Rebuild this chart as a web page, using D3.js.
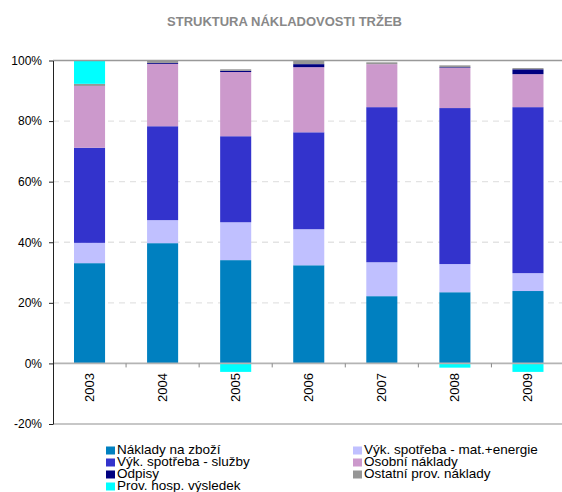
<!DOCTYPE html>
<html>
<head>
<meta charset="utf-8">
<script src="https://cdn.jsdelivr.net/npm/d3@7"></script>
<style>
  body { margin: 0; background: #fff; }
  text { font-family: Arial, "Liberation Sans", sans-serif; }
</style>
</head>
<body>
<div id="chart"></div>
<script>
// data (percent)
var years = ["2003", "2004", "2005", "2006", "2007", "2008", "2009"];
var zbozi      = [33.1, 39.7, 34.1, 32.4, 22.2, 23.5, 23.9];
var matEnergie = [6.7, 7.6, 12.5, 11.9, 11.2, 9.3, 5.9];
var sluzby     = [31.4, 31.0, 28.4, 32.0, 51.2, 51.5, 54.8];
var osobni     = [20.4, 20.6, 21.2, 21.5, 14.2, 13.3, 10.9];
var odpisy     = [0, 0.3, 0.4, 1.0, 0, 0.2, 1.6];
var ostatni    = [0.7, 0.7, 0.5, 1.2, 0.6, 0.6, 0.4];
var vysledek   = [7.7, 0, -2.8, 0, 0, -1.4, -2.8];

var seriesNames = ["Náklady na zboží", "Výk. spotřeba - mat.+energie", "Výk. spotřeba - služby",
  "Osobní náklady", "Odpisy", "Ostatní prov. náklady", "Prov. hosp. výsledek"];
var seriesValues = [zbozi, matEnergie, sluzby, osobni, odpisy, ostatni, vysledek];
var colors = ["#0080c0", "#c0c0ff", "#3333cc", "#cc99cc", "#000080", "#969696", "#00ffff"];
var yTicks = [-20, 0, 20, 40, 60, 80, 100];

const width = 562, height = 492;
const plotLeft = 53, plotRight = 564.5, plotTop = 60.5, plotBottom = 424;

var svg = d3.select("#chart").append("svg")
  .attr("width", width)
  .attr("height", height);

// build rows for the stack
var rows = years.map(function(y, i) {
  var r = { year: y };
  seriesNames.forEach(function(n, k) { r[n] = seriesValues[k][i]; });
  return r;
});

var stacked = d3.stack()
  .keys(seriesNames)
  .offset(d3.stackOffsetDiverging)(rows);

var xScale = d3.scaleBand()
  .domain(years)
  .range([plotLeft, plotRight])
  .paddingInner(0.575)
  .paddingOuter(0.2875);

var yScale = d3.scaleLinear()
  .domain([-20, 100])
  .range([plotBottom, plotTop]);

// title
svg.append("text")
  .attr("x", 284.5)
  .attr("y", 26)
  .attr("text-anchor", "middle")
  .style("font-size", "13px")
  .style("font-weight", "bold")
  .style("fill", "#888")
  .text("STRUKTURA NÁKLADOVOSTI TRŽEB");

// gridlines
svg.append("g")
  .selectAll("line")
  .data([20, 40, 60, 80])
  .join("line")
  .attr("x1", plotLeft).attr("x2", width)
  .attr("y1", d => yScale(d)).attr("y2", d => yScale(d))
  .style("stroke", "#e3e3e3")
  .style("stroke-width", 1.3)
  .style("stroke-dasharray", "6,5");

// bars
svg.append("g")
  .selectAll("g")
  .data(stacked)
  .join("g")
  .attr("fill", (d, i) => colors[i])
  .selectAll("rect")
  .data(d => d)
  .join("rect")
  .attr("x", d => xScale(d.data.year))
  .attr("y", d => yScale(d[1]))
  .attr("height", d => Math.max(0, yScale(d[0]) - yScale(d[1])))
  .attr("width", xScale.bandwidth());

// frame lines at 100%, 0% and -20%
svg.append("line")
  .attr("x1", plotLeft).attr("x2", width)
  .attr("y1", yScale(100)).attr("y2", yScale(100))
  .style("stroke", "#999").style("stroke-width", 1.5);
svg.append("line")
  .attr("x1", plotLeft).attr("x2", width)
  .attr("y1", yScale(0)).attr("y2", yScale(0))
  .style("stroke", "#b4b4b4").style("stroke-width", 1.6);
svg.append("line")
  .attr("x1", plotLeft).attr("x2", width)
  .attr("y1", yScale(-20)).attr("y2", yScale(-20))
  .style("stroke", "#b4b4b4").style("stroke-width", 1.5);

// category ticks under the zero line
svg.append("g")
  .selectAll("line")
  .data(years.slice(1))
  .join("line")
  .attr("x1", d => xScale(d) - xScale.step() * xScale.paddingInner() / 2)
  .attr("x2", d => xScale(d) - xScale.step() * xScale.paddingInner() / 2)
  .attr("y1", yScale(0)).attr("y2", yScale(0) + 4)
  .style("stroke", "#888");

// year labels
svg.append("g")
  .selectAll("text")
  .data(years)
  .join("text")
  .attr("transform", d => `translate(${xScale(d) + xScale.bandwidth() / 2 + 4.5},373) rotate(-90)`)
  .attr("text-anchor", "end")
  .style("font-size", "13px")
  .style("fill", "#000")
  .text(d => d);

// y axis
var yAxis = svg.append("g")
  .attr("transform", `translate(${plotLeft},0)`)
  .call(d3.axisLeft(yScale).tickValues(yTicks).tickSize(4).tickSizeOuter(0).tickFormat(d => d + "%"));
yAxis.select(".domain").style("stroke", "#222");
yAxis.selectAll(".tick line").style("stroke", "#222");
yAxis.selectAll(".tick text")
  .attr("x", -11)
  .style("font-size", "12px")
  .style("font-family", "Arial, 'Liberation Sans', sans-serif")
  .style("fill", "#000");

// legend
var legendPos = [[106, 454], [106, 466], [106, 478], [106, 490], [353, 454], [353, 466], [353, 478]];
var legendOrder = [0, 2, 4, 6, 1, 3, 5];
var legend = svg.append("g")
  .selectAll("g")
  .data(legendOrder)
  .join("g")
  .attr("transform", (d, i) => `translate(${legendPos[i][0]},${legendPos[i][1]})`);
legend.append("rect")
  .attr("x", 0).attr("y", -7.5)
  .attr("width", 9).attr("height", 8)
  .attr("fill", d => colors[d]);
legend.append("text")
  .attr("x", 11)
  .attr("y", 0)
  .style("font-size", "13.5px")
  .style("fill", "#000")
  .text(d => seriesNames[d]);
</script>
</body>
</html>
